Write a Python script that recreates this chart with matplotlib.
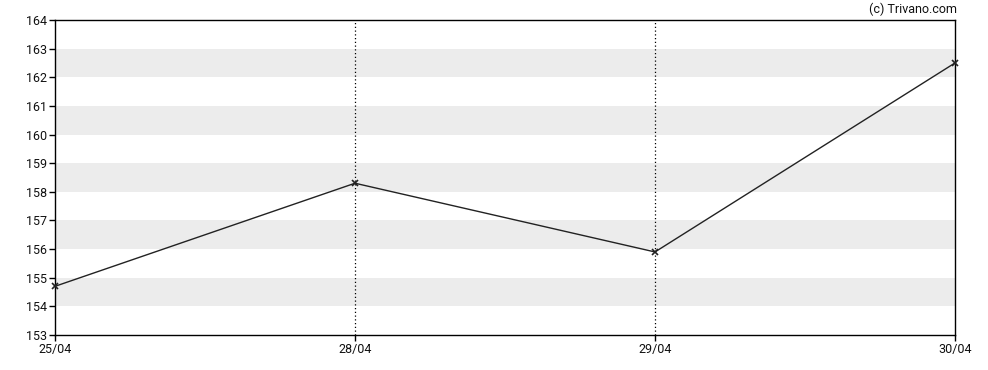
import matplotlib.pyplot as plt

plt.rcParams["font.family"] = ["Roboto", "DejaVu Sans"]

dates = ["25/04", "28/04", "29/04", "30/04"]
prices = [154.7, 158.3, 155.9, 162.5]
y_ticks = list(range(153, 165))
bands = [(154, 155), (156, 157), (158, 159), (160, 161), (162, 163)]

fig = plt.figure(figsize=(9.88, 3.70), dpi=100)
ax = fig.add_axes([55 / 988, 1 - 335 / 370, 900 / 988, 315 / 370])

x = list(range(len(dates)))

# grey bands
for lo, hi in bands:
    ax.axhspan(lo, hi, color="#ececec", lw=0, zorder=0)

# dotted day separators
for xi in x[1:-1]:
    ax.axvline(xi, color="black", lw=0.9, ls=(0, (1, 2)), zorder=1)

ax.plot(x, prices, color="#222222", lw=1, marker="x", ms=4, mew=1.2,
        zorder=3, clip_on=False)

ax.set_xlim(0, len(dates) - 1)
ax.set_ylim(153, 164)
ax.set_xticks(x)
ax.set_xticklabels(dates)
ax.set_yticks(y_ticks)
ax.tick_params(labelsize=9, length=4, width=1, color="black", labelcolor="#111111", pad=2)
for s in ax.spines.values():
    s.set_linewidth(1)

fig.text(957 / 988, 1 - 9 / 370, "(c) Trivano.com", ha="right", va="center", fontsize=9, color="#111111")

fig.savefig("out.png", dpi=100)
